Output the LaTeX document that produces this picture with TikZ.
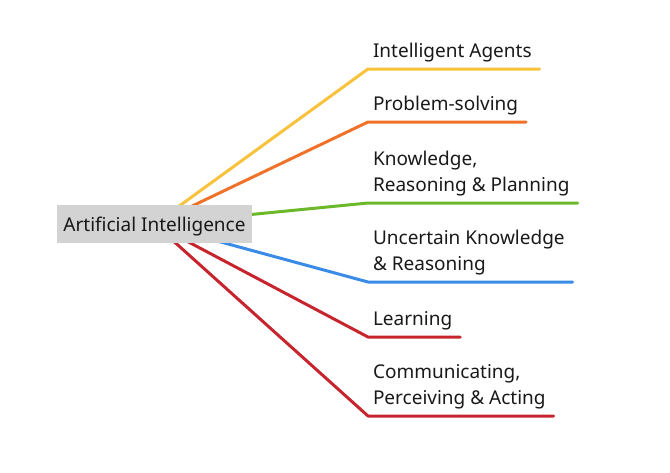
\documentclass[tikz,border=0pt]{standalone}
\usepackage{fontspec}
\setmainfont{Noto Sans}
\usetikzlibrary{backgrounds}
\definecolor{brYellow}{HTML}{F9C23C}
\definecolor{brOrange}{HTML}{F07229}
\definecolor{brGreen}{HTML}{6BB82B}
\definecolor{brBlue}{HTML}{3A8BE6}
\definecolor{brRed}{HTML}{C7252E}
\definecolor{rootFill}{HTML}{D3D3D3}
\begin{document}
\begin{tikzpicture}[x=1pt,y=-1pt,
  rootbox/.style={fill=rootFill, minimum width=195pt, text height=14pt, text depth=0pt,
    inner xsep=0pt, inner ysep=12pt, font=\fontsize{19}{26.5}\selectfont, text=black!90},
  leaf/.style={anchor=south west, align=left, inner xsep=5pt, inner ysep=6.8pt,
    outer sep=0pt, font=\fontsize{19}{26.5}\selectfont, text=black!90},
  branch/.style={line width=3pt, line cap=round, line join=round}]
\useasboundingbox (0,0) rectangle (670,472);

\node[rootbox] (root) at (154.5,224) {Artificial Intelligence};

\node[leaf] (agents) at (368,69)  {Intelligent Agents};
\node[leaf] (problem) at (368,122) {Problem-solving};
\node[leaf] (knowledge) at (368,203) {Knowledge,\\Reasoning \& Planning};
\node[leaf] (uncertain) at (368,282) {Uncertain Knowledge\\\& Reasoning};
\node[leaf] (learning) at (368,337) {Learning};
\node[leaf] (acting) at (368,416) {Communicating,\\Perceiving \& Acting};

\begin{scope}[on background layer]
  \draw[branch, brYellow] (root.center) -- (agents.south west) -- ([xshift=3pt]agents.south east);
  \draw[branch, brOrange] (root.center) -- (problem.south west) -- ([xshift=3pt]problem.south east);
  \draw[branch, brGreen]  (root.center) -- (knowledge.south west) -- ([xshift=3pt]knowledge.south east);
  \draw[branch, brBlue]   (root.center) -- (uncertain.south west) -- ([xshift=3pt]uncertain.south east);
  \draw[branch, brRed]    (root.center) -- (learning.south west) -- ([xshift=3pt]learning.south east);
  \draw[branch, brRed]    (root.center) -- (acting.south west) -- ([xshift=3pt]acting.south east);
\end{scope}
\end{tikzpicture}
\end{document}
